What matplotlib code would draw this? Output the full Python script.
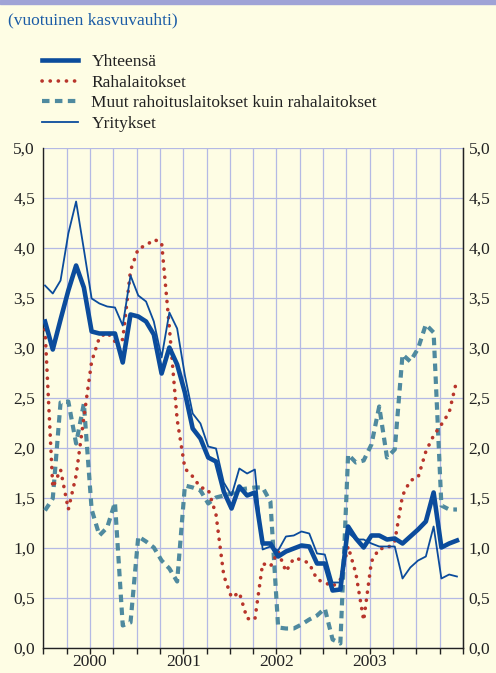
import numpy as np
import matplotlib
matplotlib.use("Agg")
import matplotlib.pyplot as plt
from matplotlib.patches import Rectangle
from matplotlib.lines import Line2D

plt.rcParams['font.family'] = ['Liberation Serif', 'DejaVu Serif']

# monthly data, Jan 2000 - Jun 2004 (annual growth, %)
yhteensa = [3.26, 2.98, 3.28, 3.57, 3.82, 3.60, 3.16, 3.14, 3.14, 3.14,
            2.85, 3.33, 3.31, 3.26, 3.13, 2.74, 3.00, 2.83, 2.55, 2.19,
            2.09, 1.90, 1.86, 1.56, 1.39, 1.61, 1.52, 1.55, 1.04, 1.04,
            0.91, 0.96, 0.99, 1.02, 1.01, 0.84, 0.84, 0.57, 0.58, 1.21,
            1.09, 1.00, 1.12, 1.12, 1.08, 1.09, 1.04, 1.11, 1.18, 1.26,
            1.55, 1.00, 1.04, 1.07]
rahalaitokset = [3.18, 1.60, 1.78, 1.38, 1.72, 2.30, 2.86, 3.10, 3.15, 3.06,
                 3.08, 3.77, 3.99, 4.02, 4.08, 4.05, 3.20, 2.28, 1.79, 1.71,
                 1.60, 1.58, 1.33, 0.72, 0.50, 0.55, 0.29, 0.28, 0.84, 0.81,
                 0.96, 0.76, 0.89, 0.88, 0.84, 0.68, 0.65, 0.61, 0.68, 1.01,
                 0.74, 0.27, 0.86, 0.99, 0.99, 1.06, 1.52, 1.67, 1.70, 1.96,
                 2.12, 2.23, 2.35, 2.68]
muut = [1.37, 1.49, 2.45, 2.46, 2.04, 2.44, 1.38, 1.12, 1.20, 1.45,
        0.22, 0.25, 1.11, 1.06, 1.00, 0.87, 0.79, 0.66, 1.62, 1.60,
        1.57, 1.44, 1.50, 1.52, 1.54, 1.58, 1.59, 1.60, 1.60, 1.46,
        0.20, 0.19, 0.19, 0.23, 0.28, 0.32, 0.39, 0.08, 0.04, 1.93,
        1.85, 1.87, 2.03, 2.41, 1.90, 1.98, 2.93, 2.86, 2.99, 3.23,
        3.15, 1.42, 1.38, 1.38]
yritykset = [3.62, 3.54, 3.67, 4.14, 4.46, 3.98, 3.49, 3.44, 3.41, 3.40,
             3.22, 3.72, 3.52, 3.46, 3.26, 2.90, 3.35, 3.19, 2.72, 2.34,
             2.24, 2.01, 1.99, 1.65, 1.52, 1.79, 1.74, 1.78, 0.98, 1.01,
             0.97, 1.11, 1.12, 1.16, 1.14, 0.94, 0.93, 0.65, 0.65, 1.15,
             1.08, 1.08, 1.04, 1.01, 1.01, 1.01, 0.69, 0.80, 0.87, 0.91,
             1.21, 0.69, 0.73, 0.71]
years = ["2000", "2001", "2002", "2003"]
labels = ["Yhteensä", "Rahalaitokset",
          "Muut rahoituslaitokset kuin rahalaitokset", "Yritykset"]

bg = "#fefde4"
blue = "#0b4c9c"
red = "#b8352b"
teal = "#4f8a9f"
gridc = "#b4b9e4"
textc = "#222222"
dots = (0, (0.05, 2.2))
dashes = (0, (1.8, 1.3))

W, H = 496, 673
fig = plt.figure(figsize=(W / 100, H / 100), dpi=100, facecolor=bg)
fig.patches.append(Rectangle((0, 1 - 4 / H), 1, 4 / H, transform=fig.transFigure,
                             color="#9fa3d6", zorder=0))

ax = fig.add_axes([43.3 / W, 1 - 647.5 / H, (463 - 43.3) / W, 500 / H])
ax.set_facecolor(bg)

x = np.arange(len(yhteensa)) + 0.22
ax.plot(x, muut, color=teal, lw=3.0, ls=dashes, dash_capstyle="butt", zorder=3)
ax.plot(x, rahalaitokset, color=red, lw=2.6, ls=dots, dash_capstyle="round", zorder=4)
ax.plot(x, yritykset, color=blue, lw=1.3, zorder=5)
ax.plot(x, yhteensa, color=blue, lw=3.3, zorder=6)

ax.set_xlim(0, 54)
ax.set_ylim(0, 5)
yt = np.arange(0, 5.01, 0.5)
ylabs = [f"{v:.1f}".replace(".", ",") for v in yt]
ax.set_yticks(yt)
ax.set_yticklabels(ylabs, fontsize=12.5, color=textc)
ax.tick_params(axis="y", length=0, pad=6)

ax.xaxis.remove_overlapping_locs = False
ax.set_xticks(np.arange(0, 55, 3))
ax.set_xticklabels([])
ax.set_xticks([6, 18, 30, 42], minor=True)
ax.set_xticklabels(years, minor=True, fontsize=12.5, color=textc)
ax.tick_params(axis="x", which="major", direction="out", length=4, width=1, color="#222222")
ax.tick_params(axis="x", which="minor", length=0, pad=5)

ax.grid(True, which="major", color=gridc, lw=0.9, zorder=1)
ax.set_axisbelow(True)

ax.spines["top"].set_visible(False)
for s in ["left", "right", "bottom"]:
    ax.spines[s].set_color("#222222")
    ax.spines[s].set_linewidth(1.0)

ax2 = ax.twinx()
ax2.set_ylim(0, 5)
ax2.set_yticks(yt)
ax2.set_yticklabels(ylabs, fontsize=12.5, color=textc)
ax2.tick_params(axis="y", length=0, pad=4)
for s in ["top", "left", "bottom"]:
    ax2.spines[s].set_visible(False)
ax2.spines["right"].set_color("#222222")

fig.text(8 / W, 1 - 20 / H, "(vuotuinen kasvuvauhti)", color="#1b5ca6",
         fontsize=12.5, va="center", ha="left")

handles = [
    Line2D([], [], color=blue, lw=3.3),
    Line2D([], [], color=red, lw=2.6, ls=dots, dash_capstyle="round"),
    Line2D([], [], color=teal, lw=3.0, ls=dashes, dash_capstyle="butt"),
    Line2D([], [], color=blue, lw=1.3),
]
leg = fig.legend(handles, labels, loc="upper left", bbox_to_anchor=(42 / W, 1 - 54 / H),
                 frameon=False, fontsize=12.5, handlelength=2.1, handletextpad=0.75,
                 labelspacing=0.25, borderpad=0, borderaxespad=0)
for t in leg.get_texts():
    t.set_color(textc)

fig.savefig("out.png", dpi=100, facecolor=bg)
